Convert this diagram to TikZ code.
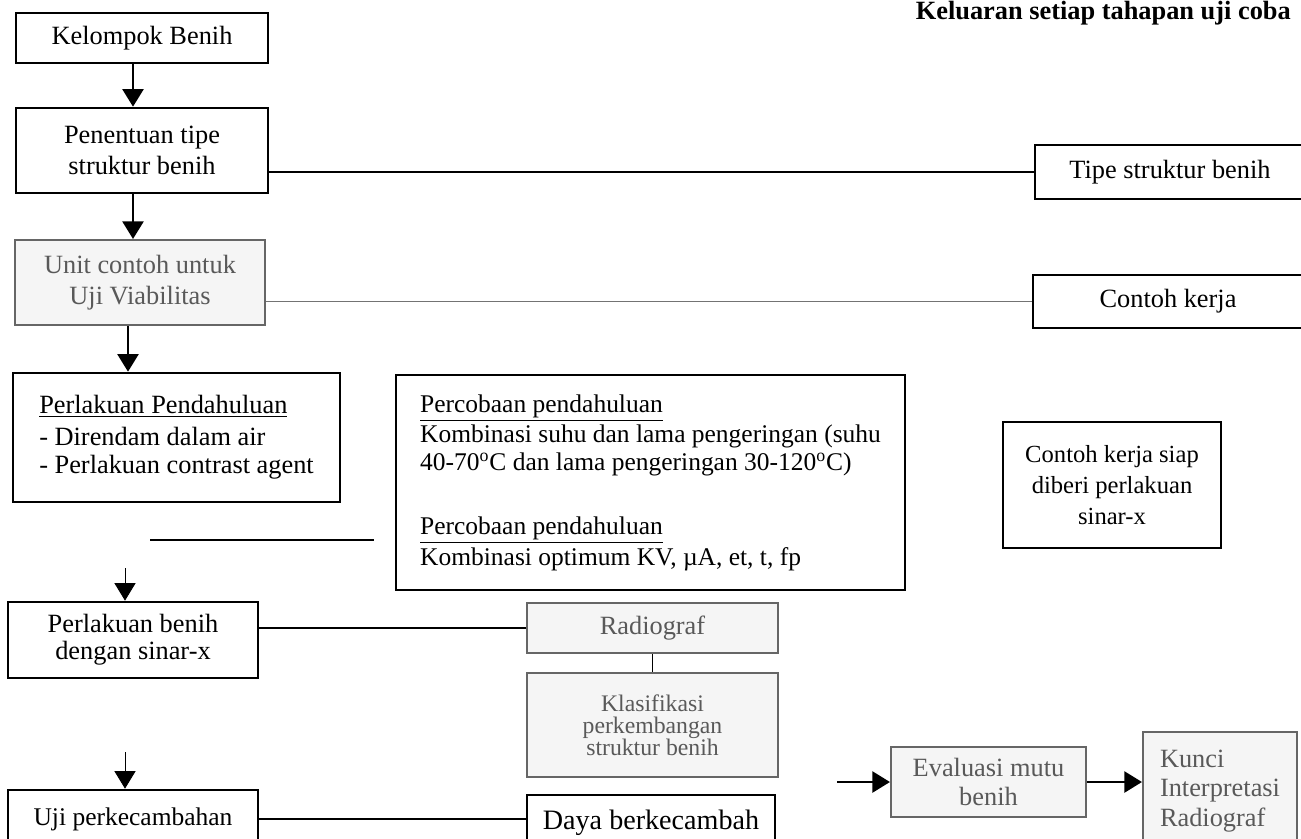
\documentclass[tikz,border=0pt]{standalone}
\usepackage{fontspec}
\setmainfont{Liberation Serif}
\usetikzlibrary{positioning,arrows.meta}
\tikzset{
blok/.style = {draw, line width=1.5pt, align=center, inner sep=0pt, font=\fontsize{15}{17.5}\selectfont},
pudar/.style = {draw=black!60, text=black!65, fill=black!4, line width=1.2pt},
garis/.style = {line width=1pt},
panah/.style = {line width=1.2pt, -{Triangle[width=12pt,length=10pt]}}
}

\begin{document}
\begin{tikzpicture}[x=0.2mm, y=-0.2mm]
\clip (0,0) rectangle (1301,838);
% judul keluaran
\node[anchor=base east, font=\bfseries\fontsize{15}{17}\selectfont] (judul) at (1297,19) {Keluaran setiap tahapan uji coba};

% kolom kiri: tahapan uji coba
\node[blok, minimum width=50.4mm, minimum height=10mm] (kel) at (142,38) {Kelompok Benih};
\node[blok, minimum width=50.4mm, minimum height=17mm] (pen) at (142,150.5) {Penentuan tipe\\struktur benih};
\node[blok, pudar, minimum width=50mm, minimum height=17mm] (unit) at (140,282.5) {Unit contoh untuk\\Uji Viabilitas};
\node[blok, align=left, minimum width=65.4mm, minimum height=25.8mm, font=\fontsize{15}{16}\selectfont] (pp) at (176.5,437.5)
  {\underline{Perlakuan Pendahuluan}\\[2pt]- Direndam dalam air\\- Perlakuan contrast agent};
\node[blok, minimum width=50mm, minimum height=15.2mm, font=\fontsize{15}{15.5}\selectfont] (pb) at (133,640) {Perlakuan benih\\dengan sinar-x};
\node[blok, minimum width=50mm, minimum height=11.6mm, font=\fontsize{14.5}{17}\selectfont] (uji) at (133,819) {Uji perkecambahan};

% kolom tengah
\node[blok, align=left, minimum width=101.8mm, minimum height=43mm, font=\fontsize{14.5}{15.5}\selectfont] (perc) at (650.5,482.5)
  {\underline{Percobaan pendahuluan}\\[2pt]Kombinasi suhu dan lama pengeringan (suhu\\40-70\textsuperscript{o}C dan lama pengeringan 30-120\textsuperscript{o}C)\\[21pt]\underline{Percobaan pendahuluan}\\[2pt]Kombinasi optimum KV, µA, et, t, fp};
\node[blok, pudar, minimum width=50.2mm, minimum height=10mm] (rad) at (652.5,628) {Radiograf};
\node[blok, pudar, minimum width=50.2mm, minimum height=20.8mm, font=\fontsize{13.5}{12.5}\selectfont] (klas) at (652.5,725) {Klasifikasi\\perkembangan\\struktur benih};
\node[blok, minimum width=49.6mm, minimum height=11mm, font=\fontsize{16}{17}\selectfont] (daya) at (651,822.5) {Daya berkecambah};

% kolom kanan: keluaran
\node[blok, minimum width=54mm, minimum height=10.8mm] (tipe) at (1170,172) {Tipe struktur benih};
\node[blok, minimum width=54mm, minimum height=10.6mm] (kerja) at (1168,301.5) {Contoh kerja};
\node[blok, minimum width=43.6mm, minimum height=25.2mm, font=\fontsize{14}{17.5}\selectfont] (siap) at (1112,485) {Contoh kerja siap\\diberi perlakuan\\sinar-x};
\node[blok, pudar, minimum width=39mm, minimum height=14mm, font=\fontsize{15}{16}\selectfont] (eval) at (988.5,782) {Evaluasi mutu\\benih};
\node[blok, pudar, align=left, minimum width=30.8mm, minimum height=23.6mm, font=\fontsize{15}{17}\selectfont] (kunci) at (1220,791) {Kunci\\Interpretasi\\Radiograf};

% panah ke bawah
\coordinate (jalur) at (133,0);
\coordinate (jalurb) at (128,0);
\coordinate (ujung4) at (125,568);
\coordinate (ujung5) at (125,752);
\draw[panah] (kel.south -| jalur) -- (pen.north -| jalur);
\draw[panah] (pen.south -| jalur) -- (unit.north -| jalur);
\draw[panah] (unit.south -| jalurb) -- (pp.north -| jalurb);
\draw[panah, line width=0.5pt] (ujung4) -- (pb.north -| ujung4);
\draw[panah, line width=0.5pt] (ujung5) -- (uji.north -| ujung5);

% garis ke keluaran
\draw[garis] (tipe.west) -- (tipe.west -| pen.east);
\draw[garis, black!55, line width=0.7pt] (kerja.west) -- (kerja.west -| unit.east);
\coordinate (sisa) at (150,540);
\draw[garis, shorten >=4.2mm] (sisa) -- (sisa -| perc.west);
\draw[garis] (rad.west) -- (rad.west -| pb.east);
\draw[garis] (rad) -- (klas);
\draw[garis] (uji.east) -- (uji.east -| daya.west);
\coordinate (masuk) at (837,782);
\draw[panah] (masuk) -- (eval.west);
\draw[panah] (eval.east) -- (eval.east -| kunci.west);
\end{tikzpicture}
\end{document}
